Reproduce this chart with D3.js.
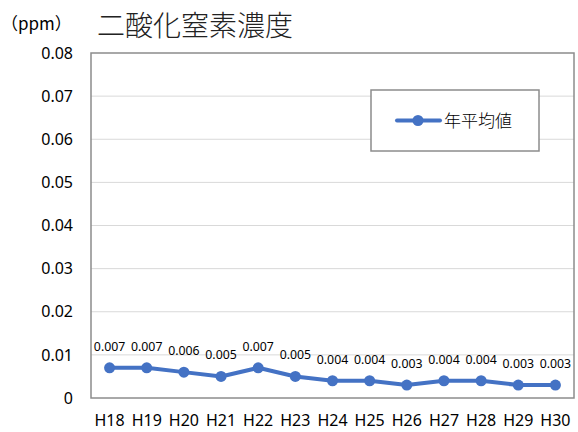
<!DOCTYPE html>
<html>
<head>
<meta charset="utf-8">
<script src="https://cdn.jsdelivr.net/npm/d3@7"></script>
<style>
  html, body { margin: 0; padding: 0; background: #fff; }
  svg { display: block; font-family: "Noto Sans CJK JP", "Noto Sans", sans-serif; }
</style>
</head>
<body>
<svg id="chart" width="578" height="432"></svg>
<script>
// Annual mean NO2 concentration (ppm), fiscal years H18–H30
const years = ["H18","H19","H20","H21","H22","H23","H24","H25","H26","H27","H28","H29","H30"];
const annualMean = [0.007,0.007,0.006,0.005,0.007,0.005,0.004,0.004,0.003,0.004,0.004,0.003,0.003];
const yTicks = [0, 0.01, 0.02, 0.03, 0.04, 0.05, 0.06, 0.07, 0.08];
const seriesName = "年平均値";
const titleText = "二酸化窒素濃度";
const unitText = "（ppm）";

const svg = d3.select("#chart");
const plot = { left: 91, right: 574, top: 53, bottom: 398 };
const blue = "#4472C4";
const latin = "'Noto Sans', sans-serif";

const x = d3.scaleBand().domain(years).range([plot.left, plot.right]);
const y = d3.scaleLinear().domain([0, 0.08]).range([plot.bottom, plot.top]);

// horizontal gridlines
svg.append("g").selectAll("line").data(yTicks.slice(1, -1)).join("line")
  .attr("x1", plot.left).attr("x2", plot.right)
  .attr("y1", d => y(d)).attr("y2", d => y(d))
  .attr("stroke", "#d9d9d9").attr("stroke-width", 1);

// plot frame
svg.append("rect")
  .attr("x", plot.left).attr("y", plot.top)
  .attr("width", plot.right - plot.left).attr("height", plot.bottom - plot.top)
  .attr("fill", "none").attr("stroke", "#8c8c8c").attr("stroke-width", 1.5);

// y axis labels
const yAxis = d3.axisLeft(y).tickValues(yTicks).tickSize(0).tickPadding(0)
  .tickFormat(d => d === 0 ? "0" : d3.format(".2f")(d));
svg.append("g").attr("transform", `translate(73,0)`).call(yAxis)
  .call(g => g.select(".domain").remove())
  .selectAll("text")
  .attr("font-size", 16).attr("fill", "#000")
  .style("font-family", latin);

// x axis labels
const xAxis = d3.axisBottom(x).tickSize(0).tickPadding(0);
svg.append("g").attr("transform", `translate(0,415)`).call(xAxis)
  .call(g => g.select(".domain").remove())
  .selectAll("text")
  .attr("font-size", 16).attr("fill", "#000")
  .style("font-family", latin);

const cx = d => x(d) + x.bandwidth() / 2;

// series line
svg.append("path")
  .datum(annualMean)
  .attr("fill", "none").attr("stroke", blue).attr("stroke-width", 4)
  .attr("stroke-linejoin", "round")
  .attr("d", d3.line().x((d, i) => cx(years[i])).y(d => y(d)));

// markers
svg.append("g").selectAll("circle").data(annualMean).join("circle")
  .attr("cx", (d, i) => cx(years[i])).attr("cy", d => y(d))
  .attr("r", 5.5).attr("fill", blue);

// value labels
svg.append("g").selectAll("text").data(annualMean).join("text")
  .attr("x", (d, i) => cx(years[i])).attr("y", d => y(d) - 17)
  .attr("text-anchor", "middle").attr("font-size", 12.3).attr("fill", "#000")
  .style("font-family", latin)
  .text(d => d3.format(".3f")(d));

// title and unit
svg.append("text").attr("x", 97).attr("y", 36).attr("font-size", 28)
  .attr("font-weight", 300).attr("fill", "#222")
  .text(titleText);
svg.append("text").attr("x", 1).attr("y", 30).attr("font-size", 17).attr("fill", "#000")
  .text(unitText);

// legend
const lg = svg.append("g");
lg.append("rect").attr("x", 371).attr("y", 90).attr("width", 168).attr("height", 61)
  .attr("fill", "#fff").attr("stroke", "#8c8c8c").attr("stroke-width", 1.5);
lg.append("line").attr("x1", 397).attr("x2", 440).attr("y1", 120.5).attr("y2", 120.5)
  .attr("stroke", blue).attr("stroke-width", 4).attr("stroke-linecap", "round");
lg.append("circle").attr("cx", 418).attr("cy", 120.5).attr("r", 5.5).attr("fill", blue);
lg.append("text").attr("x", 444).attr("y", 127).attr("font-size", 17)
  .attr("font-weight", 300).attr("fill", "#000")
  .text(seriesName);
</script>
</body>
</html>
